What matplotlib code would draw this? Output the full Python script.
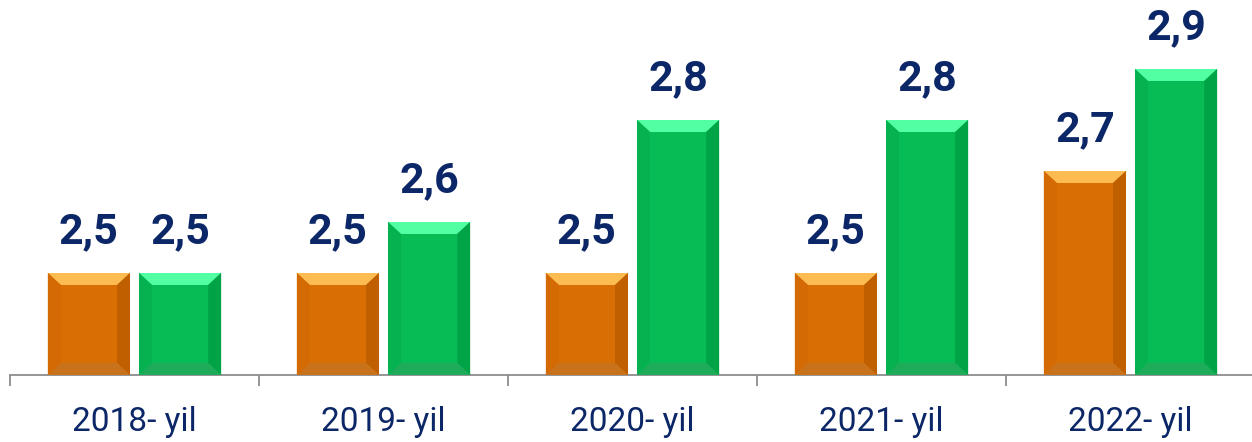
import matplotlib.pyplot as plt
from matplotlib.patches import Polygon
import numpy as np

plt.rcParams['font.family'] = ['Roboto', 'DejaVu Sans']

# data
years = ['2018- yil', '2019- yil', '2020- yil', '2021- yil', '2022- yil']
orange_vals = [2.5, 2.5, 2.5, 2.5, 2.7]
green_vals = [2.5, 2.6, 2.8, 2.8, 2.9]

navy = '#0C2767'
# face, top, left, right, bottom
orange_cols = ['#D96E05', '#FCBC52', '#D46A04', '#BF5F00', '#C8731C']
green_cols = ['#07BC55', '#52FFA2', '#06B24F', '#00A446', '#1EAB5A']

base = 2.3
bw = 0.33
gap = 0.036


def bevel_bar(ax, xc, top, cols, dx, dy):
    x0, x1 = xc - bw / 2, xc + bw / 2
    y0, y1 = base, top
    ax.bar(xc, top - base, bw, bottom=base, color=cols[0], zorder=2)
    polys = [
        ([(x0, y1), (x1, y1), (x1 - dx, y1 - dy), (x0 + dx, y1 - dy)], cols[1]),
        ([(x0, y1), (x0 + dx, y1 - dy), (x0 + dx, y0 + dy), (x0, y0)], cols[2]),
        ([(x1, y1), (x1, y0), (x1 - dx, y0 + dy), (x1 - dx, y1 - dy)], cols[3]),
        ([(x0, y0), (x1, y0), (x1 - dx, y0 + dy), (x0 + dx, y0 + dy)], cols[4]),
    ]
    for pts, c in polys:
        ax.add_patch(Polygon(pts, closed=True, facecolor=c, edgecolor='none', zorder=3))
    ax.text(xc, top + 0.04, f'{top:.1f}'.replace('.', ','), ha='center', va='bottom',
            fontsize=31, fontweight='bold', color=navy, clip_on=False)


fig = plt.figure(figsize=(12.52, 4.42), dpi=100)
ax = fig.add_axes([10 / 1252, 67 / 442, 1245 / 1252, 357 / 442])

x = np.arange(len(years))
dx = 13 / 249
dy = 12 / 510
for i in x:
    bevel_bar(ax, i - bw / 2 - gap / 2, orange_vals[i], orange_cols, dx, dy)
    bevel_bar(ax, i + bw / 2 + gap / 2, green_vals[i], green_cols, dx, dy)

ax.set_xlim(-0.5, len(years) - 0.5)
ax.set_ylim(base, 3.0)
for s in ['top', 'right', 'left']:
    ax.spines[s].set_visible(False)
ax.spines['bottom'].set_color('#8C8C8C')
ax.spines['bottom'].set_linewidth(1.3)
ax.set_yticks([])
ax.set_xticks(np.arange(-0.5, len(years), 1.0))
ax.set_xticklabels([])
ax.tick_params(axis='x', length=8, width=1.3, color='#8C8C8C', direction='out')
ax.set_xticks(x, minor=True)
ax.set_xticklabels(years, minor=True, fontsize=24, color=navy)
ax.tick_params(axis='x', which='minor', length=0, pad=22)

fig.savefig('out.png', dpi=100)
